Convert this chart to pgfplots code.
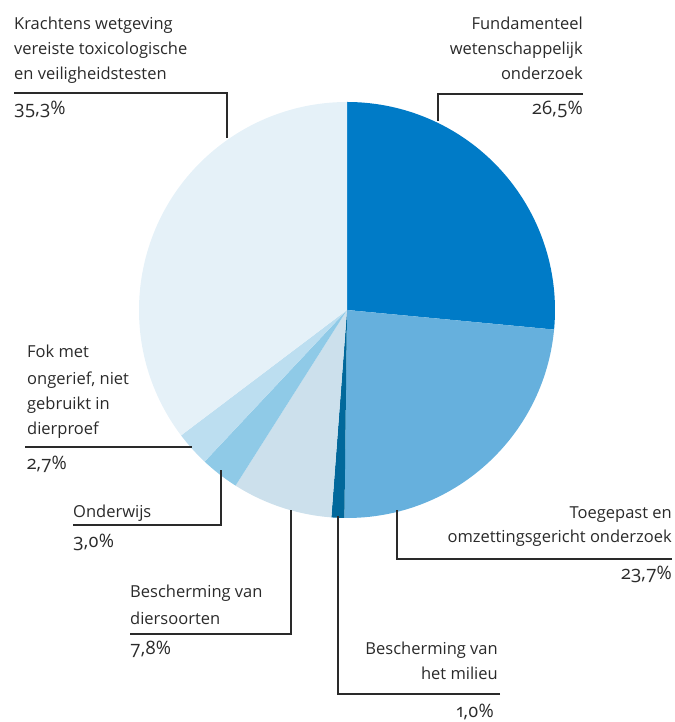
\documentclass[border=0pt]{standalone}
\usepackage{pgfplots}
\pgfplotsset{compat=1.18}
\usepackage{fontspec}
\setmainfont{Open Sans}[Numbers=OldStyle]
\definecolor{cF}{HTML}{007BC7}
\definecolor{cT}{HTML}{66B0DD}
\definecolor{cM}{HTML}{01689B}
\definecolor{cD}{HTML}{CCE0EC}
\definecolor{cO}{HTML}{8FCAE7}
\definecolor{cK}{HTML}{BCDEF0}
\definecolor{cW}{HTML}{E5F1F8}
\definecolor{txt}{HTML}{2A2A2A}
\begin{document}
\begin{tikzpicture}
\begin{axis}[
  at={(0,0)}, anchor=south west,
  scale only axis, width=675bp, height=722bp,
  xmin=0, xmax=675, ymin=0, ymax=722,
  hide axis, clip=false,
]
% slices: cumulative start/end percentages, clockwise from top
\foreach \a/\b/\c in {0/26.5/cF, 26.5/50.2/cT, 50.2/51.2/cM, 51.2/59.0/cD, 59.0/62.0/cO, 62.0/64.7/cK, 64.7/100/cW}{
  \pgfmathsetmacro\s{90-3.6*\a}
  \pgfmathsetmacro\e{90-3.6*\b}
  \edef\temp{\noexpand\fill[\c] (axis cs:347,412) -- +(\s:208bp) arc[start angle=\s, end angle=\e, radius=208bp] -- cycle;}
  \temp
}
% leader lines (y = 722 - pixel row)
\begin{scope}[draw=txt, line width=1.2bp]
\draw (axis cs:14,629) -- (axis cs:227,629) -- (axis cs:227,584);
\draw (axis cs:583,628) -- (axis cs:438,628) -- (axis cs:438,601);
\draw (axis cs:672,163) -- (axis cs:397,163) -- (axis cs:397,212);
\draw (axis cs:500,28) -- (axis cs:338,28) -- (axis cs:338,206);
\draw (axis cs:25,275) -- (axis cs:192,275);
\draw (axis cs:73,197) -- (axis cs:221,197) -- (axis cs:221,252);
\draw (axis cs:130,88) -- (axis cs:291,88) -- (axis cs:291,212);
\end{scope}
\begin{scope}[every node/.style={inner sep=0pt, text=txt, font=\fontsize{16.5bp}{25bp}\selectfont},
  pct/.style={font=\fontsize{18.5bp}{25bp}\selectfont}]
% Krachtens
\node[anchor=base west] at (axis cs:14,692) {Krachtens wetgeving};
\node[anchor=base west] at (axis cs:14,667) {vereiste toxicologische};
\node[anchor=base west] at (axis cs:14,642) {en veiligheidstesten};
\node[pct, anchor=base west] at (axis cs:14,607) {35,3\%};
% Fundamenteel
\node[anchor=base east] at (axis cs:583,692) {Fundamenteel};
\node[anchor=base east] at (axis cs:583,667) {wetenschappelijk};
\node[anchor=base east] at (axis cs:583,642) {onderzoek};
\node[pct, anchor=base east] at (axis cs:583,607) {26,5\%};
% Toegepast
\node[anchor=base east] at (axis cs:672,203) {Toegepast en};
\node[anchor=base east] at (axis cs:672,179) {omzettingsgericht onderzoek};
\node[pct, anchor=base east] at (axis cs:672,142) {23,7\%};
% Milieu
\node[anchor=base east] at (axis cs:498,67) {Bescherming van};
\node[anchor=base east] at (axis cs:498,42) {het milieu};
\node[pct, anchor=base east] at (axis cs:494,5) {1,0\%};
% Fok
\node[anchor=base west] at (axis cs:27,364) {Fok met};
\node[anchor=base west] at (axis cs:27,337) {ongerief, niet};
\node[anchor=base west] at (axis cs:27,312) {gebruikt in};
\node[anchor=base west] at (axis cs:27,287) {dierproef};
\node[pct, anchor=base west] at (axis cs:27,252) {2,7\%};
% Onderwijs
\node[anchor=base west] at (axis cs:73,204) {Onderwijs};
\node[pct, anchor=base west] at (axis cs:73,174) {3,0\%};
% Diersoorten
\node[anchor=base west] at (axis cs:130,124) {Bescherming van};
\node[anchor=base west] at (axis cs:130,97) {diersoorten};
\node[pct, anchor=base west] at (axis cs:130,67) {7,8\%};
\end{scope}
\end{axis}
\pgfresetboundingbox
\path (0,0) rectangle (675bp,722bp);
\end{tikzpicture}
\end{document}
